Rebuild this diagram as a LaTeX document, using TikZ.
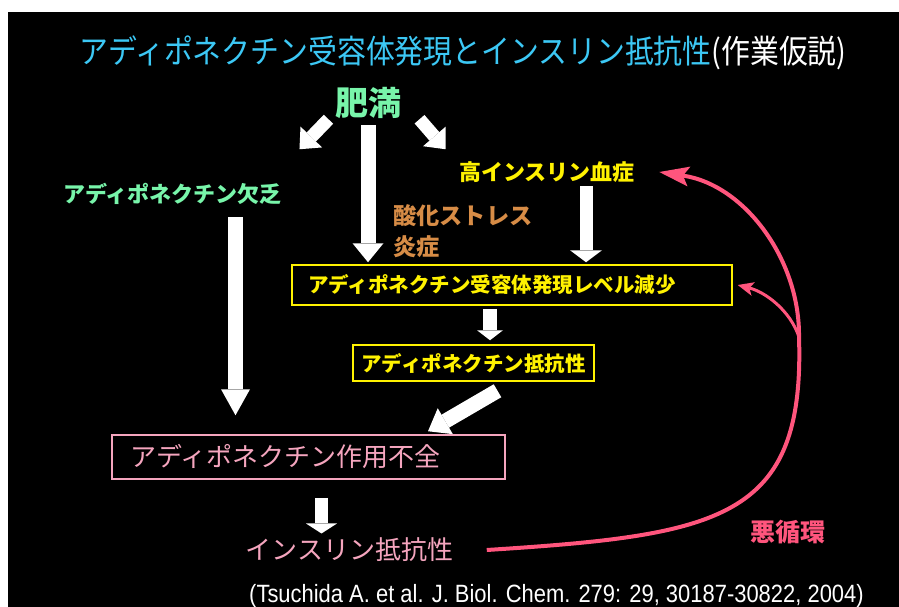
\documentclass[tikz,border=0pt]{standalone}
\usepackage{fontspec}
\setmainfont{Noto Sans CJK JP}
\newfontfamily\titlefont[FakeStretch=0.885]{Noto Sans CJK JP}
\newfontfamily\citefont[FakeStretch=0.878]{Liberation Sans}
\usetikzlibrary{arrows.meta, calc}

\definecolor{titleblue}{RGB}{60,200,245}
\definecolor{mint}{RGB}{120,245,170}
\definecolor{ochre}{RGB}{215,140,70}
\definecolor{softpink}{RGB}{245,165,190}
\definecolor{loopred}{RGB}{255,85,125}

\begin{document}
\begin{tikzpicture}[x=1pt, y=-1pt]

\tikzset{blk/.style n args = {3}{draw=white, line width=#1, -{Triangle[width=#2, length=#3, line width=0pt]}}}
\tikzset{ybox/.style = {draw=yellow, line width=1.5pt, text=yellow, font=\bfseries\fontsize{20.5}{24}\selectfont}}
\tikzset{pbox/.style = {draw=softpink, line width=1.5pt, text=softpink, font=\fontsize{26}{30}\selectfont}}
\tikzset{vicious/.style = {draw=loopred, line width=4pt, -{Stealth[length=30pt, width=20pt, inset=6pt, line width=0pt]}}}

\useasboundingbox (0,0) rectangle (899,607);
\fill[white] (0,0) rectangle (899,607);
\fill[black] (8,12) rectangle (899,607);

%nodes
\node[text=white, font=\titlefont\fontsize{32.6}{38}\selectfont] (title) at (463,53)
  {\textcolor{titleblue}{アディポネクチン受容体発現とインスリン抵抗性}(作業仮説)};
\node[text=mint, font=\bfseries\fontsize{33}{40}\selectfont] (himan) at (368,103) {肥満};
\node[text=yellow, font=\bfseries\fontsize{22}{26}\selectfont] (hyper) at (547,172) {高インスリン血症};
\node[text=mint, font=\bfseries\fontsize{22}{26}\selectfont] (lack) at (172.5,194) {アディポネクチン欠乏};
\node[text=ochre, font=\bfseries\fontsize{23.2}{31}\selectfont, align=left, anchor=west, inner sep=0pt] (stress) at (393,231) {酸化ストレス\\炎症};
\node[ybox, inner xsep=16pt, text width=408pt, align=left, minimum height=40pt] (recept) at (512,285) {アディポネクチン受容体発現レベル減少};
\node[ybox, minimum width=241pt, minimum height=36pt] (adres) at (473.5,363) {アディポネクチン抵抗性};
\node[pbox, inner xsep=18pt, text width=357pt, align=left, minimum height=44pt] (fuzen) at (308.5,457) {アディポネクチン作用不全};
\node[text=softpink, font=\fontsize{26}{30}\selectfont] (resist) at (349.5,550) {インスリン抵抗性};
\node[text=loopred, font=\bfseries\fontsize{25}{30}\selectfont] (akujun) at (788,532) {悪循環};
\node[anchor=base west, inner sep=0pt, text=white, font=\citefont\fontsize{25}{30}\selectfont] (cite) at (249,602)
  {(Tsuchida A. et al. J. Biol. Chem. 279: 29, 30187-30822, 2004)};

%white arrows
\draw[blk={13pt}{30pt}{17pt}] ($(himan.south west)+(-3,-3)$) -- ($(himan.south west)+(-32,27)$);
\draw[blk={13pt}{30pt}{17pt}] ($(himan.south east)+(15,-3)$) -- ($(himan.south east)+(41,27)$);
\draw[blk={15pt}{31pt}{19pt}, shorten <=3pt, shorten >=2pt] (himan.south) -- (himan.south |- recept.north);
\draw[blk={13pt}{32pt}{12pt}, shorten >=2pt] ([xshift=39pt]hyper.south) -- ([xshift=39pt]hyper.south |- recept.north);
\draw[blk={15pt}{29pt}{26pt}, shorten <=9pt, shorten >=19pt] ([xshift=63pt]lack.south) -- ([xshift=63pt]lack.south |- fuzen.north);
\draw[blk={14pt}{26pt}{10pt}, shorten <=3pt, shorten >=4pt] ([xshift=-22pt]recept.south) -- ([xshift=-22pt]recept.south |- adres.north);
\draw[blk={15pt}{30pt}{20pt}] ($(adres.south)+(24,9)$) -- ($(fuzen.north)+(119.5,-3)$);
\draw[blk={13pt}{31pt}{10pt}, shorten <=18pt, shorten >=1pt] ([xshift=13pt]fuzen.south) -- ([xshift=13pt]fuzen.south |- resist.north);

%vicious circle
\draw[vicious] ([xshift=30pt]resist.east) .. controls (720,535) and (805,520) .. (799,337) coordinate (fork)
  .. controls (800,260) and (745,185) .. ([xshift=21pt]hyper.east);
\draw[vicious, line width=3pt, -{Stealth[length=16pt, width=14pt, inset=4pt, line width=0pt]}] (fork) .. controls (790,310) and (765,292) .. ([xshift=5pt]recept.east);

\end{tikzpicture}
\end{document}
